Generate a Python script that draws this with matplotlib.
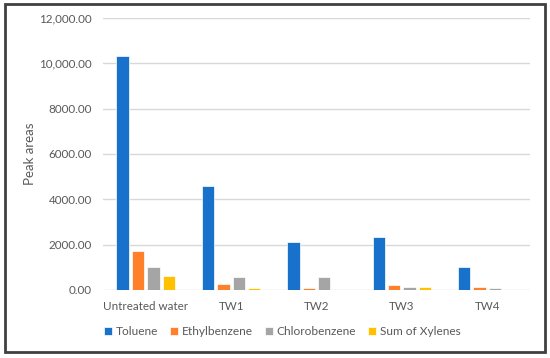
import numpy as np
import matplotlib.pyplot as plt
from matplotlib.patches import Rectangle

# data
groups = ['Untreated water', 'TW1', 'TW2', 'TW3', 'TW4']
series = ['Toluene', 'Ethylbenzene', 'Chlorobenzene', 'Sum of Xylenes']
toluene = [10320, 4600, 2120, 2320, 1015]
ethylbenzene = [1735, 265, 100, 235, 130]
chlorobenzene = [1015, 590, 560, 130, 90]
xylenes = [620, 70, 0, 130, 0]
y_ticks = [0, 2000, 4000, 6000, 8000, 10000, 12000]
y_tick_labels = ['0.00', '2000.00', '4000.00', '6000.00', '8000.00',
                 '10,000.00', '12,000.00']

colors = ['#1872CC', '#FF7F2A', '#A5A5A5', '#FFC000']
text_color = '#595959'

plt.rcParams['font.family'] = ['Lato', 'DejaVu Sans']

fig = plt.figure(figsize=(5.5, 3.58), dpi=100)
ax = fig.add_axes([103 / 550, 1 - 290 / 358, 427 / 550, 272 / 358])

x = np.arange(len(groups))
width = 0.145
step = 0.18
values = [toluene, ethylbenzene, chlorobenzene, xylenes]
for i, (name, vals) in enumerate(zip(series, values)):
    offset = (i - 1.5) * step
    ax.bar(x + offset, vals, width, color=colors[i], label=name,
           edgecolor='white', linewidth=0.5, zorder=3)

ax.set_xlim(-0.5, len(groups) - 0.5)
ax.set_ylim(0, 12000)
ax.set_yticks(y_ticks)
ax.set_yticklabels(y_tick_labels)
ax.set_xticks(x)
ax.set_xticklabels(groups)
ax.tick_params(axis='both', length=0, colors=text_color, labelsize=8.4)
ax.tick_params(axis='y', pad=8)
ax.tick_params(axis='x', pad=8)
ax.grid(axis='y', color='#D9D9D9', linewidth=1, zorder=0)
for s in ax.spines.values():
    s.set_visible(False)
ax.set_ylabel('Peak areas', color=text_color, fontsize=9.5)
ax.yaxis.set_label_coords(-0.157, 0.5)

ax.legend(loc='upper left', bbox_to_anchor=(-0.01, -0.115), ncol=4,
          frameon=False, fontsize=8.6, labelcolor=text_color,
          handlelength=0.7, handleheight=0.7, handletextpad=0.3,
          columnspacing=1.0, borderaxespad=0)

# outer frame
fig.patches.append(Rectangle((5 / 550, 6 / 358), 540 / 550, 348 / 358,
                             transform=fig.transFigure, fill=False,
                             edgecolor='#404040', linewidth=2))

fig.savefig('out.png', dpi=100)
